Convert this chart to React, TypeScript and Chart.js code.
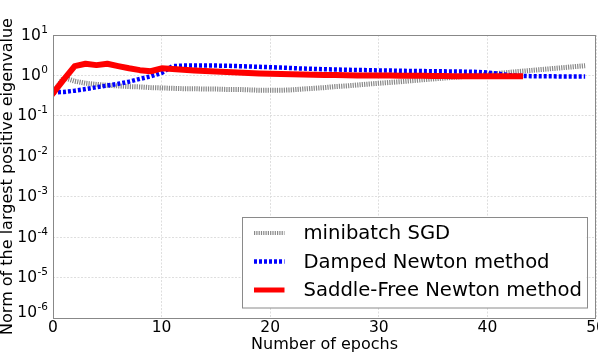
import React, { useEffect, useRef } from "react";
import { Chart, registerables } from "chart.js";

Chart.register(...registerables);

const X_TICKS = [0, 10, 20, 30, 40, 50];
const Y_EXPONENTS = [-6, -5, -4, -3, -2, -1, 0, 1];

const SERIES_NAMES = ["minibatch SGD", "Damped Newton method", "Saddle-Free Newton method"];

const SGD = [
  0.38, 0.88, 0.72, 0.64, 0.6, 0.57, 0.55, 0.53, 0.52, 0.5,
  0.49, 0.48, 0.47, 0.47, 0.46, 0.46, 0.45, 0.45, 0.44, 0.43,
  0.43, 0.43, 0.44, 0.46, 0.48, 0.5, 0.53, 0.55, 0.58, 0.61,
  0.64, 0.67, 0.7, 0.74, 0.78, 0.82, 0.86, 0.9, 0.95, 1.0,
  1.06, 1.12, 1.19, 1.26, 1.33, 1.4, 1.48, 1.56, 1.65, 1.74,
];

const DAMPED = [
  0.38, 0.39, 0.42, 0.46, 0.51, 0.56, 0.62, 0.7, 0.82, 0.95,
  1.15, 1.7, 1.75, 1.76, 1.76, 1.75, 1.73, 1.7, 1.67, 1.63,
  1.6, 1.56, 1.52, 1.48, 1.45, 1.42, 1.4, 1.38, 1.36, 1.35,
  1.33, 1.32, 1.3, 1.29, 1.28, 1.27, 1.26, 1.25, 1.24, 1.22,
  1.18, 1.1, 1.02, 0.97, 0.96, 0.95, 0.95, 0.94, 0.94, 0.94,
];

const SFN = [
  0.36, 0.8, 1.7, 1.95, 1.8, 1.95, 1.7, 1.5, 1.35, 1.27,
  1.5, 1.45, 1.38, 1.33, 1.29, 1.25, 1.21, 1.18, 1.15, 1.12,
  1.1, 1.08, 1.07, 1.05, 1.04, 1.03, 1.02, 1.01, 1.0, 1.0,
  0.99, 0.99, 0.98, 0.98, 0.98, 0.97, 0.97, 0.96, 0.96, 0.96,
  0.96, 0.96, 0.96, 0.96,
];

const FONT = "DejaVu Sans";

const toPoints = (arr: number[]) => arr.map((v, i) => ({ x: i, y: v }));

const customPlugin = {
  id: "customDecor",
  afterDraw(chart: any) {
    const ctx = chart.ctx;
    const area = chart.chartArea;
    const yScale = chart.scales.y;
    ctx.save();
    // frame
    ctx.strokeStyle = "#888888";
    ctx.lineWidth = 1;
    ctx.setLineDash([]);
    ctx.strokeRect(Math.round(area.left) + 0.5, Math.round(area.top) + 0.5,
      Math.round(area.right - area.left) - 1, Math.round(area.bottom - area.top));

    // y tick labels with superscripts
    ctx.fillStyle = "#000000";
    for (const p of Y_EXPONENTS) {
      let y = yScale.getPixelForValue(Math.pow(10, p));
      if (y > area.bottom - 6) y = area.bottom - 6;
      const exp = String(p);
      ctx.font = `10.5px "${FONT}"`;
      const expW = ctx.measureText(exp).width;
      const rightX = area.left - 5;
      ctx.textBaseline = "alphabetic";
      ctx.textAlign = "left";
      ctx.fillText(exp, rightX - expW, y - 2.5);
      ctx.font = `15.5px "${FONT}"`;
      ctx.textAlign = "right";
      ctx.textBaseline = "middle";
      ctx.fillText("10", rightX - expW - 0.5, y + 0.5);
    }

    // legend
    const bx = area.right - 354.5;
    const by = area.bottom - 101;
    const bw = 345;
    const bh = 90.5;
    ctx.fillStyle = "#ffffff";
    ctx.fillRect(bx, by, bw, bh);
    ctx.strokeStyle = "#8a8a8a";
    ctx.lineWidth = 1;
    ctx.strokeRect(Math.round(bx) + 0.5, Math.round(by) + 0.5, bw, bh);
    const rows = [16, 44.5, 73];
    const datasets = chart.data.datasets;
    SERIES_NAMES.forEach((name, i) => {
      const ds = datasets.find((d: any) => d.label === name);
      const cy = by + rows[i];
      ctx.save();
      ctx.strokeStyle = ds.borderColor;
      ctx.lineWidth = ds.legendWidth;
      ctx.setLineDash(ds.borderDash || []);
      ctx.lineCap = "butt";
      ctx.beginPath();
      ctx.moveTo(bx + 12.5, cy);
      ctx.lineTo(bx + 43, cy);
      ctx.stroke();
      ctx.restore();
      ctx.fillStyle = "#000000";
      ctx.font = `19.6px "${FONT}"`;
      ctx.textAlign = "left";
      ctx.textBaseline = "middle";
      ctx.fillText(name, bx + 62, cy + 1);
    });
    ctx.restore();
  },
};

export default function App() {
  const ref = useRef<HTMLCanvasElement | null>(null);

  useEffect(() => {
    if (!ref.current) return;
    Chart.defaults.font.family = FONT;
    const chart = new Chart(ref.current, {
      type: "line",
      data: {
        datasets: [
          {
            label: SERIES_NAMES[0],
            data: toPoints(SGD),
            borderColor: "#888888",
            borderWidth: 5,
            borderDash: [1.2, 1.1],
            legendWidth: 4,
            pointRadius: 0,
            borderJoinStyle: "round",
            order: 2,
          } as any,
          {
            label: SERIES_NAMES[1],
            data: toPoints(DAMPED),
            borderColor: "#0000ff",
            borderWidth: 4.5,
            borderDash: [3, 2],
            legendWidth: 4.5,
            pointRadius: 0,
            borderJoinStyle: "round",
            order: 1,
          } as any,
          {
            label: SERIES_NAMES[2],
            data: toPoints(SFN),
            borderColor: "#ff0000",
            borderWidth: 6,
            legendWidth: 5,
            pointRadius: 0,
            borderJoinStyle: "round",
            borderCapStyle: "square",
            order: 0,
          } as any,
        ],
      },
      options: {
        animation: false,
        responsive: false,
        devicePixelRatio: 1,
        layout: { padding: { top: 35, right: 2, left: 0, bottom: 0 } },
        plugins: { legend: { display: false }, tooltip: { enabled: false } },
        scales: {
          x: {
            type: "linear",
            min: 0,
            max: 50,
            afterBuildTicks: (scale: any) => {
              scale.ticks = X_TICKS.map((v) => ({ value: v }));
            },
            afterFit: (scale: any) => {
              scale.height = 36;
              scale.paddingLeft = 0;
              scale.paddingRight = 0;
            },
            ticks: { color: "#000", font: { size: 15.5 }, padding: 1, maxRotation: 0, autoSkip: false },
            grid: { color: "#dedede", lineWidth: 1, tickLength: 0, drawTicks: false },
            border: { display: false, dash: [2, 1.5] },
            title: {
              display: true,
              text: "Number of epochs",
              color: "#000",
              font: { size: 16 },
              padding: { top: 0, bottom: 0 },
            },
          },
          y: {
            type: "logarithmic",
            min: 1e-6,
            max: 10,
            afterBuildTicks: (scale: any) => {
              scale.ticks = Y_EXPONENTS.map((p) => ({ value: Math.pow(10, p) }));
            },
            afterFit: (scale: any) => {
              scale.width = 53;
              scale.paddingTop = 0;
              scale.paddingBottom = 0;
            },
            ticks: { display: false },
            grid: { color: "#dedede", lineWidth: 1, tickLength: 0, drawTicks: false },
            border: { display: false, dash: [2, 1.5] },
            title: {
              display: true,
              text: "Norm of the largest positive eigenvalue",
              color: "#000",
              font: { size: 16, lineHeight: 1 },
              padding: { top: 0, bottom: 0 },
            },
          },
        },
      },
      plugins: [customPlugin],
    });
    return () => chart.destroy();
  }, []);

  return (
    <div style={{ position: "fixed", left: 0, top: 0, width: 598, height: 354, background: "#fff" }}>
      <canvas ref={ref} width={598} height={354} style={{ display: "block" }} />
    </div>
  );
}
